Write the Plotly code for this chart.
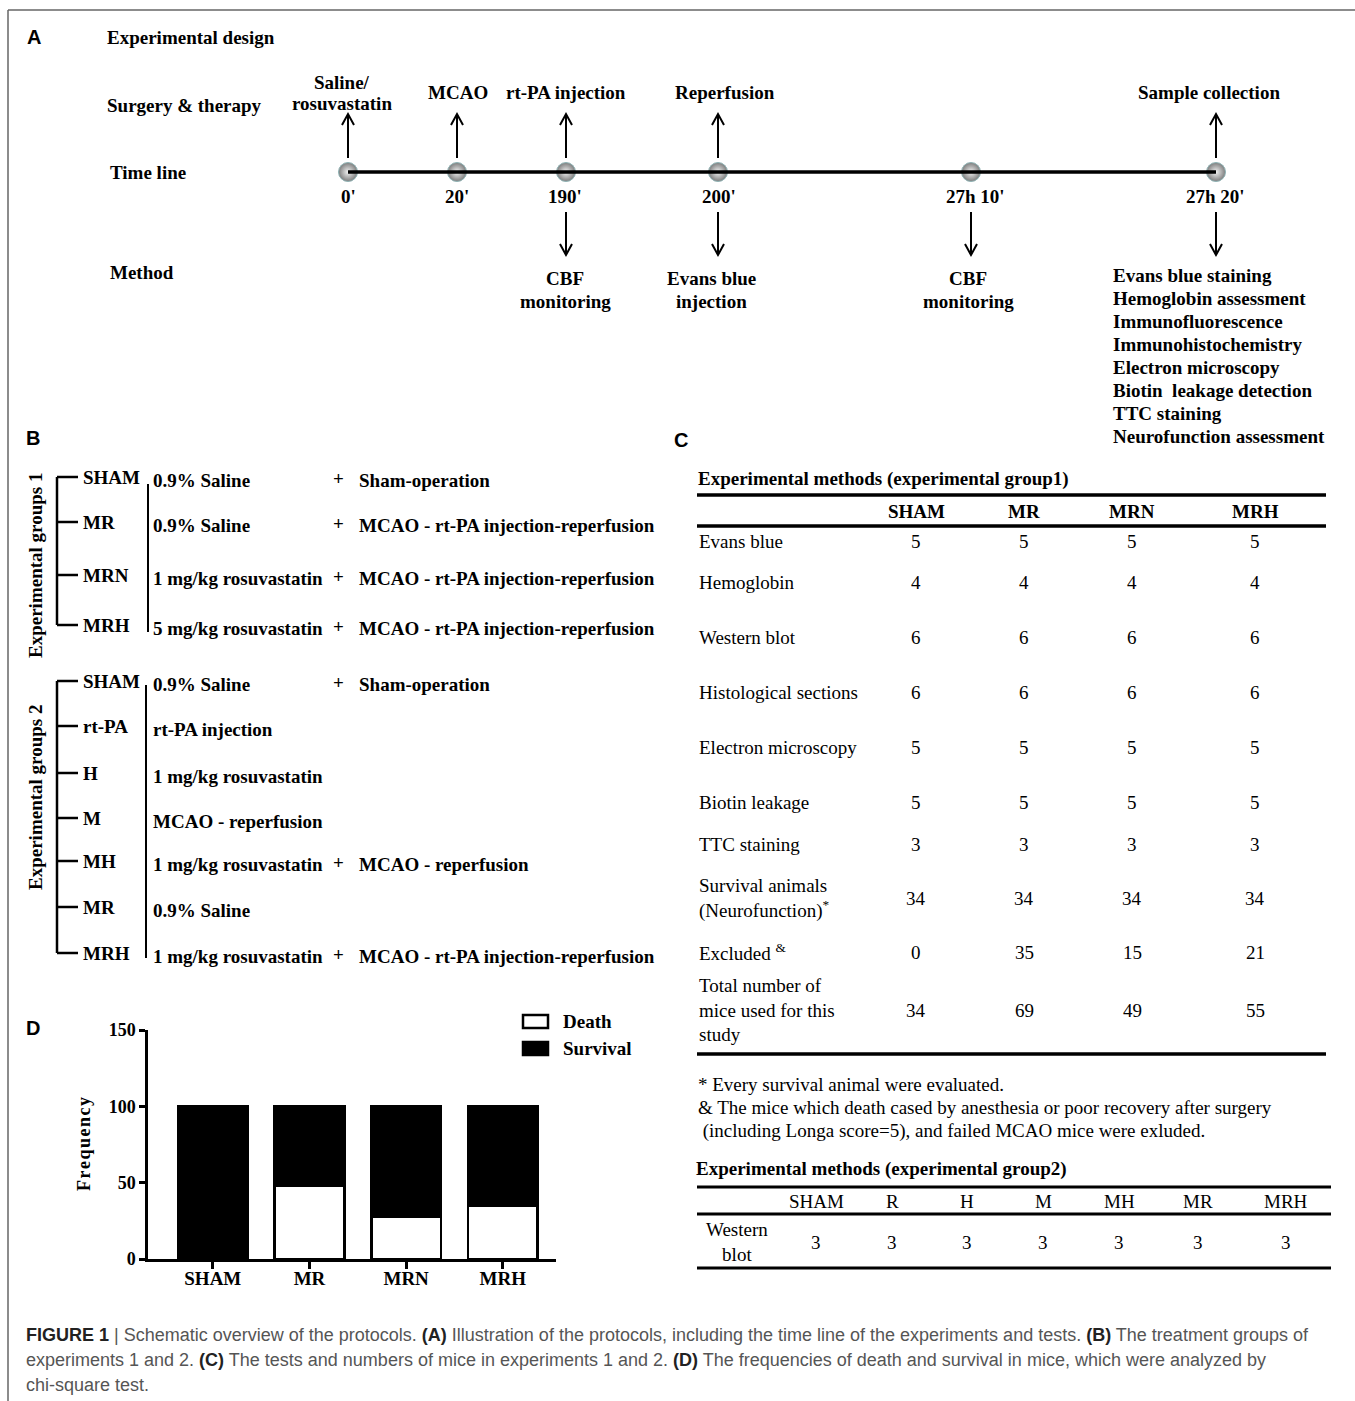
import plotly.graph_objects as go

W, H = 1355, 1401
SERIF = "Liberation Serif, 'Times New Roman', serif"
SANS = "Liberation Sans, Arial, sans-serif"
NARROW = "'Liberation Sans Narrow', 'Arial Narrow', 'Liberation Sans', sans-serif"

# ------------------------------------------------------------------ DATA
# Panel A
row_titles_A = ["Experimental design", "Surgery & therapy", "Time line", "Method"]
time_points = ["0'", "20'", "190'", "200'", "27h 10'", "27h 20'"]
surgery_events = [["Saline/", "rosuvastatin"], ["MCAO"], ["rt-PA injection"], ["Reperfusion"], [], ["Sample collection"]]
method_events = [[], [], ["CBF", "monitoring"], ["Evans blue", "injection"], ["CBF", "monitoring"],
                 ["Evans blue staining", "Hemoglobin assessment", "Immunofluorescence",
                  "Immunohistochemistry", "Electron microscopy", "Biotin  leakage detection",
                  "TTC staining", "Neurofunction assessment"]]

# Panel B
group1_title = "Experimental groups 1"
group1_names = ["SHAM", "MR", "MRN", "MRH"]
group1_pretreat = ["0.9% Saline", "0.9% Saline", "1 mg/kg rosuvastatin", "5 mg/kg rosuvastatin"]
group1_surgery = ["Sham-operation", "MCAO - rt-PA injection-reperfusion",
                  "MCAO - rt-PA injection-reperfusion", "MCAO - rt-PA injection-reperfusion"]
group2_title = "Experimental groups 2"
group2_names = ["SHAM", "rt-PA", "H", "M", "MH", "MR", "MRH"]
group2_pretreat = ["0.9% Saline", "rt-PA injection", "1 mg/kg rosuvastatin", "MCAO - reperfusion",
                   "1 mg/kg rosuvastatin", "0.9% Saline", "1 mg/kg rosuvastatin"]
group2_surgery = ["Sham-operation", "", "", "", "MCAO - reperfusion", "", "MCAO - rt-PA injection-reperfusion"]

# Panel C
table1_title = "Experimental methods (experimental group1)"
table1_groups = ["SHAM", "MR", "MRN", "MRH"]
table1_methods = ["Evans blue", "Hemoglobin", "Western blot", "Histological sections",
                  "Electron microscopy", "Biotin leakage", "TTC staining",
                  "Survival animals<br>(Neurofunction)<sup>*</sup>", "Excluded <sup>&</sup>",
                  "Total number of<br>mice used for this<br>study"]
table1_values = [[5, 5, 5, 5], [4, 4, 4, 4], [6, 6, 6, 6], [6, 6, 6, 6], [5, 5, 5, 5],
                 [5, 5, 5, 5], [3, 3, 3, 3], [34, 34, 34, 34], [0, 35, 15, 21], [34, 69, 49, 55]]
footnotes = ["* Every survival animal were evaluated.",
             "& The mice which death cased by anesthesia or poor recovery after surgery",
             " (including Longa score=5), and failed MCAO mice were exluded."]
table2_title = "Experimental methods (experimental group2)"
table2_groups = ["SHAM", "R", "H", "M", "MH", "MR", "MRH"]
table2_method = "Western<br>blot"
table2_values = [3, 3, 3, 3, 3, 3, 3]

# Panel D
bar_groups = ["SHAM", "MR", "MRN", "MRH"]
death_freq = [0, 48, 28, 35]
survival_freq = [100, 52, 72, 65]
series_names = ["Death", "Survival"]
y_ticks = [0, 50, 100, 150]

caption_lines = [
    "<b><span style='color:#222'>FIGURE 1</span></b> | Schematic overview of the protocols. "
    "<b><span style='color:#222'>(A)</span></b> Illustration of the protocols, including the time line of the "
    "experiments and tests. <b><span style='color:#222'>(B)</span></b> The treatment groups of",
    "experiments 1 and 2. <b><span style='color:#222'>(C)</span></b> The tests and numbers of mice in experiments "
    "1 and 2. <b><span style='color:#222'>(D)</span></b> The frequencies of death and survival in mice, which were analyzed by",
    "chi-square test.",
]

# ------------------------------------------------------------------ LAYOUT CONSTANTS (pixels)
FS = 19
node_x = [348, 457, 566, 718, 971, 1216]
time_label_x = [348, 457, 565, 719, 975, 1215]
surgery_label_x = [342, 458, 566, 725, 971, 1209]
method_label_x = [565, 565, 565, 711, 968, 1111]
timeline_y = 172

ann = []
shapes = []


def T(x, y, text, size=FS, bold=True, anchor="left", family=SERIF, color="black", angle=0):
    ann.append(dict(x=x, y=y, xref="x2", yref="y2", text=("<b>%s</b>" % text) if bold else text,
                    showarrow=False, xanchor=anchor, yanchor="middle", textangle=angle,
                    align=anchor if anchor in ("left", "right") else "center",
                    font=dict(family=family, size=size, color=color)))


def L(x0, y0, x1, y1, w=2.5, color="black"):
    shapes.append(dict(type="line", xref="x2", yref="y2", x0=x0, y0=y0, x1=x1, y1=y1,
                       line=dict(color=color, width=w)))


def ARROW(x, y_tail, y_head):
    d = 1 if y_head > y_tail else -1
    yb = y_head - d * 11
    shapes.append(dict(type="path", xref="x2", yref="y2",
                       path=f"M{x},{y_tail} L{x},{y_head} M{x-6},{yb} L{x},{y_head} L{x+6},{yb}",
                       line=dict(color="black", width=2)))


# border
L(8, 10, W, 10, w=1.5, color="#666")
L(8, 10, 8, H, w=1.5, color="#666")

# panel letters
for letter, (lx, ly) in zip("ABCD", [(34, 37), (33, 438), (681, 440), (33, 1028)]):
    T(lx, ly, letter, size=20, family=SANS, anchor="center")

# ---------------- Panel A
for t, (tx, ty) in zip(row_titles_A, [(105, 37), (105, 105), (108, 172), (108, 272)]):
    T(tx, ty, t)
L(node_x[0], timeline_y, node_x[-1], timeline_y, w=3.5)
for i, lab in enumerate(time_points):
    T(time_label_x[i], 196, lab, anchor="center")
    ev = surgery_events[i]
    if ev:
        ARROW(node_x[i], 158, 114)
        if len(ev) == 1:
            T(surgery_label_x[i], 92, ev[0], anchor="center")
        else:
            T(surgery_label_x[i], 82, ev[0], anchor="center")
            T(surgery_label_x[i], 103, ev[1], anchor="center")
    mv = method_events[i]
    if mv:
        ARROW(node_x[i], 212, 255)
        if len(mv) <= 2:
            for j, s in enumerate(mv):
                T(method_label_x[i], 278 + 23 * j, s, anchor="center")
        else:
            for j, s in enumerate(mv):
                T(method_label_x[i], 275 + 23 * j, s, anchor="left")

# ---------------- Panel B
g1_y = [477, 522, 575, 625]
T(35, 566, group1_title, angle=-90, anchor="center")
L(57, g1_y[0], 57, g1_y[-1])
for i, y in enumerate(g1_y):
    L(57, y, 78, y)
    T(81, y, group1_names[i])
    T(151, y + 3, group1_pretreat[i])
    T(338, y + 1, "+", anchor="center")
    T(357, y + 3, group1_surgery[i])
L(148, 484, 148, 632, w=2)

g2_y = [681, 726, 773, 818, 861, 907, 953]
T(35, 798, group2_title, angle=-90, anchor="center")
L(57, g2_y[0], 57, g2_y[-1])
for i, y in enumerate(g2_y):
    L(57, y, 78, y)
    T(81, y, group2_names[i])
    T(151, y + 3, group2_pretreat[i])
    if group2_surgery[i]:
        T(338, y + 1, "+", anchor="center")
        T(357, y + 3, group2_surgery[i])
L(146, 685, 146, 958, w=2)

# ---------------- Panel C
col1_x = [916, 1024, 1132, 1255]
row1_y = [541, 582, 637, 692, 747, 802, 844, 898, 952, 1010]
T(696, 479, table1_title)
L(697, 495, 1326, 495, w=3.5)
L(697, 526, 1326, 526, w=3.5)
L(697, 1054, 1326, 1054, w=3.5)
for j, g in enumerate(table1_groups):
    T(col1_x[j], 511, g, anchor="center")
for i, m in enumerate(table1_methods):
    T(697, row1_y[i], m, bold=False)
    for j, v in enumerate(table1_values[i]):
        T(col1_x[j], row1_y[i], str(v), bold=False, anchor="center")
for k, f in enumerate(footnotes):
    T(696, 1084 + 23.5 * k, f.replace(" (", "&nbsp;("), bold=False)

col2_x = [816, 892, 967, 1043, 1119, 1198, 1286]
T(694, 1169, table2_title)
L(697, 1187, 1331, 1187, w=3)
L(697, 1214, 1331, 1214, w=3)
L(697, 1268, 1331, 1268, w=3)
for j, g in enumerate(table2_groups):
    T(col2_x[j], 1201, g, bold=False, anchor="center")
    T(col2_x[j], 1242, str(table2_values[j]), bold=False, anchor="center")
T(737, 1242, table2_method, bold=False, anchor="center")

# ---------------- Panel D legend + y title
shapes.append(dict(type="rect", xref="x2", yref="y2", x0=523, x1=548, y0=1015, y1=1028,
                   line=dict(color="black", width=2.5), fillcolor="white"))
shapes.append(dict(type="rect", xref="x2", yref="y2", x0=523, x1=548, y0=1042, y1=1055,
                   line=dict(color="black", width=2.5), fillcolor="black"))
T(561, 1021, series_names[0])
T(561, 1048, series_names[1])
T(84, 1144, "F r e q u e n c y".replace(" ", "&#8202;"), angle=-90, anchor="center", size=18)

# caption
for k, c in enumerate(caption_lines):
    T(24, 1335 + 25 * k, c, bold=False, family=NARROW, size=18, color="#555")

# ------------------------------------------------------------------ FIGURE
fig = go.Figure()
fig.add_trace(go.Bar(x=list(range(len(bar_groups))), y=death_freq, name=series_names[0],
                     marker=dict(color="white", line=dict(color="black", width=2.5)),
                     width=0.72, showlegend=False, xaxis="x", yaxis="y"))
fig.add_trace(go.Bar(x=list(range(len(bar_groups))), y=survival_freq, name=series_names[1],
                     marker=dict(color="black", line=dict(color="black", width=2.5)),
                     width=0.72, showlegend=False, xaxis="x", yaxis="y"))
# timeline nodes on the overlay axis
fig.add_trace(go.Scatter(x=node_x, y=[timeline_y] * len(node_x), mode="markers", xaxis="x2", yaxis="y2",
                         marker=dict(size=19, color="#7d7d7d", gradient=dict(type="radial", color="#f2f2f2"),
                                     line=dict(color="#8fb3b5", width=1)),
                         showlegend=False, hoverinfo="skip"))

bar_x0, bar_x1 = 148, 556
bar_y0, bar_y1 = 1030, 1259
fig.update_layout(
    template="none",
    width=W, height=H, margin=dict(l=0, r=0, t=0, b=0, pad=0, autoexpand=False),
    paper_bgcolor="white", plot_bgcolor="rgba(0,0,0,0)",
    barmode="stack", showlegend=False,
    xaxis=dict(domain=[bar_x0 / W, bar_x1 / W], range=[-0.67, 3.55], anchor="y", automargin=False,
               tickvals=list(range(len(bar_groups))), ticktext=["<b>%s</b>" % g for g in bar_groups],
               ticks="outside", ticklen=7, tickwidth=2.5, tickcolor="black", ticklabelstandoff=-7,
               showline=True, linewidth=2.5, linecolor="black", showgrid=False, zeroline=False,
               tickfont=dict(family=SERIF, size=19, color="black"), fixedrange=True),
    yaxis=dict(domain=[1 - bar_y1 / H, 1 - bar_y0 / H], range=[0, 150], anchor="x", automargin=False,
               tickvals=y_ticks, ticktext=["<b>%d</b>" % v for v in y_ticks],
               ticks="outside", ticklen=6, tickwidth=2.5, tickcolor="black",
               showline=True, linewidth=2.5, linecolor="black", showgrid=False, zeroline=False,
               tickfont=dict(family=SERIF, size=18, color="black"), fixedrange=True),
    xaxis2=dict(domain=[0, 1], range=[0, W], anchor="y2", visible=False, fixedrange=True, automargin=False),
    yaxis2=dict(domain=[0, 1], range=[H, 0], anchor="x2", visible=False, fixedrange=True, automargin=False),
    annotations=ann, shapes=shapes,
)

fig.write_html("out.html", config={"displayModeBar": False},
               post_script="document.body.style.margin='0';document.body.style.overflow='hidden';")
